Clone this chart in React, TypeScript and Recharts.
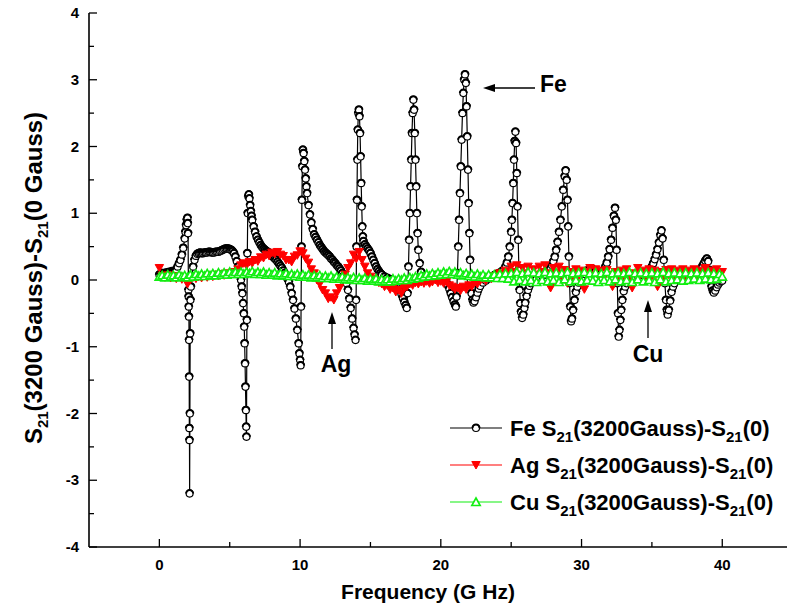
import React from 'react';
import { LineChart, Line, XAxis, YAxis } from 'recharts';

// Fe: [frequency GHz, S21(3200G)-S21(0)]
const fePoints: [number, number][] = [
  [0.0, 0.08], [0.1, 0.09], [0.2, 0.1], [0.3, 0.1], [0.4, 0.1], [0.5, 0.11], [0.6, 0.11], [0.7, 0.12], [0.8, 0.12], [0.9, 0.13],
  [1.0, 0.13], [1.1, 0.14], [1.2, 0.15], [1.3, 0.2], [1.4, 0.25], [1.5, 0.3], [1.6, 0.38], [1.7, 0.48], [1.8, 0.62], [1.85, 0.72],
  [1.9, 0.82], [1.95, 0.9], [2.0, 0.93], [2.02, 0.85], [2.04, 0.7], [2.06, 0.0], [2.07, -0.15], [2.08, -0.25], [2.09, -0.4], [2.1, -0.55],
  [2.11, -0.9], [2.12, -1.45], [2.13, -2.22], [2.14, -2.4], [2.15, -3.2], [2.17, -2.0], [2.19, -0.8], [2.21, -0.3], [2.24, -0.1], [2.3, 0.05],
  [2.4, 0.2], [2.5, 0.3], [2.6, 0.36], [2.7, 0.39], [2.8, 0.4], [2.9, 0.41], [3.0, 0.4], [3.1, 0.4], [3.2, 0.41], [3.3, 0.41],
  [3.4, 0.41], [3.5, 0.42], [3.6, 0.42], [3.7, 0.41], [3.8, 0.41], [3.9, 0.41], [4.0, 0.42], [4.1, 0.42], [4.2, 0.42], [4.3, 0.43],
  [4.4, 0.44], [4.5, 0.45], [4.6, 0.46], [4.7, 0.47], [4.8, 0.47], [4.9, 0.47], [5.0, 0.46], [5.1, 0.45], [5.2, 0.43], [5.3, 0.4],
  [5.4, 0.35], [5.5, 0.28], [5.6, 0.2], [5.7, 0.1], [5.8, 0.0], [5.85, -0.1], [5.9, -0.2], [5.95, -0.35], [6.0, -0.5], [6.03, -0.7],
  [6.06, -0.95], [6.09, -1.25], [6.12, -1.6], [6.15, -1.95], [6.17, -2.2], [6.19, -2.35], [6.22, -0.6], [6.25, 0.4], [6.28, 1.0], [6.32, 1.25],
  [6.36, 1.28], [6.4, 1.22], [6.45, 1.12], [6.5, 1.03], [6.55, 0.96], [6.6, 0.9], [6.7, 0.8], [6.8, 0.72], [6.9, 0.65], [7.0, 0.6],
  [7.1, 0.56], [7.2, 0.52], [7.3, 0.49], [7.4, 0.47], [7.5, 0.45], [7.6, 0.43], [7.7, 0.42], [7.8, 0.4], [7.9, 0.38], [8.0, 0.36],
  [8.1, 0.34], [8.2, 0.32], [8.3, 0.3], [8.4, 0.27], [8.5, 0.24], [8.6, 0.21], [8.7, 0.18], [8.8, 0.14], [8.9, 0.1], [9.0, 0.06],
  [9.1, 0.02], [9.2, -0.03], [9.3, -0.1], [9.4, -0.2], [9.5, -0.3], [9.6, -0.43], [9.7, -0.58], [9.8, -0.75], [9.9, -0.95], [9.95, -1.1],
  [10.0, -1.2], [10.04, -1.28], [10.07, -0.4], [10.1, 0.5], [10.13, 1.2], [10.16, 1.7], [10.2, 1.95], [10.25, 1.9], [10.3, 1.78], [10.35, 1.65],
  [10.4, 1.52], [10.45, 1.4], [10.5, 1.3], [10.6, 1.12], [10.7, 0.98], [10.8, 0.86], [10.9, 0.76], [11.0, 0.68], [11.1, 0.64], [11.2, 0.6],
  [11.3, 0.56], [11.4, 0.52], [11.5, 0.49], [11.6, 0.46], [11.7, 0.43], [11.8, 0.41], [11.9, 0.39], [12.0, 0.37], [12.1, 0.35], [12.2, 0.32],
  [12.3, 0.3], [12.4, 0.27], [12.5, 0.25], [12.6, 0.22], [12.7, 0.2], [12.8, 0.17], [12.9, 0.14], [13.0, 0.1], [13.1, 0.06], [13.2, 0.02],
  [13.3, -0.05], [13.4, -0.15], [13.5, -0.28], [13.6, -0.42], [13.7, -0.58], [13.8, -0.72], [13.87, -0.82], [13.94, -0.9], [13.98, -0.3], [14.01, 0.5],
  [14.04, 1.2], [14.07, 1.8], [14.1, 2.25], [14.14, 2.5], [14.18, 2.55], [14.22, 2.45], [14.26, 2.2], [14.3, 1.85], [14.34, 1.45], [14.38, 1.1],
  [14.42, 0.8], [14.46, 0.65], [14.5, 0.58], [14.6, 0.53], [14.7, 0.5], [14.8, 0.47], [14.9, 0.44], [15.0, 0.4], [15.1, 0.35], [15.2, 0.3],
  [15.3, 0.25], [15.4, 0.2], [15.5, 0.16], [15.6, 0.13], [15.7, 0.1], [15.8, 0.08], [16.0, 0.05], [16.2, 0.03], [16.4, 0.01], [16.6, -0.02],
  [16.8, -0.06], [17.0, -0.12], [17.1, -0.16], [17.2, -0.21], [17.3, -0.27], [17.4, -0.33], [17.5, -0.38], [17.58, -0.42], [17.64, -0.2], [17.7, 0.2],
  [17.75, 0.6], [17.8, 1.0], [17.85, 1.4], [17.9, 1.8], [17.95, 2.2], [18.0, 2.5], [18.05, 2.7], [18.1, 2.55], [18.15, 2.2], [18.2, 1.8],
  [18.25, 1.4], [18.3, 1.0], [18.35, 0.7], [18.4, 0.45], [18.5, 0.25], [18.6, 0.12], [18.7, 0.05], [18.8, 0.02], [19.0, 0.0], [19.2, 0.02],
  [19.4, 0.05], [19.6, 0.07], [19.8, 0.06], [20.0, 0.04], [20.2, 0.01], [20.4, -0.04], [20.5, -0.08], [20.6, -0.13], [20.7, -0.2], [20.8, -0.26],
  [20.9, -0.32], [21.0, -0.37], [21.07, -0.4], [21.12, -0.25], [21.18, 0.1], [21.24, 0.5], [21.3, 0.9], [21.36, 1.3], [21.42, 1.7], [21.48, 2.1],
  [21.54, 2.5], [21.6, 2.8], [21.66, 3.0], [21.72, 3.08], [21.78, 2.95], [21.83, 2.6], [21.88, 2.15], [21.93, 1.65], [21.98, 1.15], [22.03, 0.7],
  [22.08, 0.3], [22.13, 0.0], [22.18, -0.2], [22.25, -0.3], [22.32, -0.34], [22.4, -0.32], [22.5, -0.26], [22.6, -0.19], [22.7, -0.13], [22.8, -0.09],
  [23.0, -0.04], [23.2, -0.01], [23.4, 0.02], [23.6, 0.05], [23.8, 0.07], [24.0, 0.09], [24.2, 0.11], [24.4, 0.14], [24.6, 0.2], [24.7, 0.26],
  [24.8, 0.35], [24.9, 0.5], [25.0, 0.72], [25.05, 0.9], [25.1, 1.15], [25.15, 1.45], [25.2, 1.8], [25.25, 2.08], [25.3, 2.22], [25.35, 2.05],
  [25.4, 1.6], [25.45, 1.1], [25.5, 0.6], [25.55, 0.15], [25.6, -0.15], [25.65, -0.35], [25.7, -0.48], [25.78, -0.57], [25.86, -0.52], [25.94, -0.42],
  [26.0, -0.34], [26.1, -0.24], [26.2, -0.15], [26.3, -0.09], [26.4, -0.05], [26.6, 0.0], [26.8, 0.03], [27.0, 0.05], [27.2, 0.06], [27.4, 0.08],
  [27.6, 0.12], [27.8, 0.18], [27.9, 0.22], [28.0, 0.28], [28.1, 0.35], [28.2, 0.45], [28.3, 0.57], [28.4, 0.72], [28.5, 0.9], [28.6, 1.1],
  [28.7, 1.35], [28.8, 1.55], [28.87, 1.64], [28.94, 1.5], [29.0, 1.2], [29.05, 0.8], [29.1, 0.35], [29.15, -0.05], [29.2, -0.4], [29.26, -0.62],
  [29.32, -0.58], [29.4, -0.45], [29.5, -0.3], [29.6, -0.18], [29.7, -0.1], [29.8, -0.04], [30.0, 0.03], [30.2, 0.09], [30.4, 0.14], [30.6, 0.17],
  [30.8, 0.16], [31.0, 0.13], [31.2, 0.11], [31.4, 0.11], [31.6, 0.15], [31.7, 0.2], [31.8, 0.26], [31.9, 0.35], [32.0, 0.46], [32.1, 0.6],
  [32.2, 0.78], [32.3, 0.96], [32.38, 1.08], [32.44, 0.9], [32.49, 0.45], [32.54, -0.05], [32.59, -0.5], [32.64, -0.85], [32.7, -0.75], [32.76, -0.6],
  [32.82, -0.45], [32.9, -0.3], [33.0, -0.17], [33.1, -0.1], [33.2, -0.05], [33.4, 0.0], [33.6, 0.03], [33.8, 0.05], [34.0, 0.06], [34.2, 0.07],
  [34.4, 0.08], [34.6, 0.1], [34.8, 0.14], [35.0, 0.2], [35.1, 0.25], [35.2, 0.31], [35.3, 0.38], [35.4, 0.46], [35.5, 0.56], [35.6, 0.67],
  [35.68, 0.74], [35.76, 0.62], [35.84, 0.3], [35.92, -0.05], [36.0, -0.3], [36.06, -0.45], [36.12, -0.52], [36.2, -0.45], [36.3, -0.31], [36.4, -0.18],
  [36.5, -0.1], [36.6, -0.05], [36.8, 0.0], [37.0, 0.02], [37.2, 0.03], [37.4, 0.04], [37.6, 0.05], [37.8, 0.06], [38.0, 0.07], [38.2, 0.09],
  [38.4, 0.13], [38.5, 0.17], [38.6, 0.21], [38.7, 0.25], [38.8, 0.29], [38.9, 0.32], [39.0, 0.28], [39.08, 0.15], [39.16, 0.0], [39.24, -0.1],
  [39.32, -0.16], [39.4, -0.19], [39.5, -0.16], [39.6, -0.11], [39.7, -0.07], [39.8, -0.04], [39.9, -0.02], [40.0, -0.01],
];

// Ag and Cu sampled every 0.2 GHz from 0 to 40 GHz
const sampleStep = 0.2;
const agValues = [
  0.18, 0.06, 0.04, 0.07, 0.03, 0.06, 0.02, 0.05, 0.01, 0.03, -0.06, 0.0, 0.04, 0.02, 0.05, 0.03, 0.06, 0.04, 0.07, 0.05,
  0.08, 0.06, 0.09, 0.07, 0.1, 0.08, 0.11, 0.12, 0.16, 0.22, 0.25, 0.22, 0.27, 0.25, 0.3, 0.28, 0.34, 0.33, 0.38, 0.36,
  0.41, 0.39, 0.42, 0.38, 0.36, 0.3, 0.3, 0.27, 0.35, 0.37, 0.43, 0.4, 0.32, 0.26, 0.16, 0.1, 0.0, -0.06, -0.15, -0.2,
  -0.28, -0.26, -0.3, -0.2, -0.12, 0.02, 0.08, 0.18, 0.25, 0.38, 0.32, 0.42, 0.3, 0.2, 0.1, 0.05, 0.02, -0.02, -0.04, -0.06,
  -0.1, -0.08, -0.14, -0.12, -0.18, -0.15, -0.2, -0.12, -0.1, -0.06, -0.08, -0.04, -0.06, -0.03, -0.05, -0.02, -0.05, -0.03, 0.0, -0.04,
  -0.02, -0.05, -0.03, -0.08, -0.1, -0.14, -0.12, -0.16, -0.1, -0.14, -0.08, -0.1, -0.04, -0.06, -0.01, 0.02, -0.01, 0.04, 0.02, 0.06,
  0.04, 0.1, 0.06, 0.14, 0.1, 0.2, 0.12, 0.22, 0.08, 0.18, 0.1, 0.2, 0.06, 0.16, 0.08, 0.2, 0.12, 0.22, 0.1, -0.12,
  0.18, 0.1, 0.2, 0.05, 0.15, -0.05, 0.12, 0.04, 0.16, 0.06, 0.14, -0.14, 0.12, 0.18, 0.08, 0.16, 0.06, 0.14, 0.04, 0.15,
  0.08, -0.1, 0.12, 0.04, 0.14, 0.06, 0.16, 0.02, -0.12, 0.1, 0.18, 0.08, 0.14, 0.04, 0.16, 0.06, 0.14, -0.1, 0.12, 0.05,
  0.15, 0.08, 0.16, 0.06, 0.14, 0.08, 0.16, 0.05, 0.14, 0.08, 0.16, 0.06, 0.14, 0.1, 0.18, 0.06, 0.14, 0.08, 0.16, 0.1,
  0.12,
];
const cuValues = [
  0.05, 0.07, 0.04, 0.08, 0.05, 0.07, 0.04, 0.08, 0.05, 0.07, 0.04, 0.08, 0.05, 0.09, 0.06, 0.09, 0.06, 0.1, 0.07, 0.1,
  0.07, 0.11, 0.08, 0.11, 0.08, 0.12, 0.09, 0.12, 0.09, 0.12, 0.09, 0.12, 0.1, 0.13, 0.09, 0.12, 0.09, 0.12, 0.08, 0.11,
  0.08, 0.11, 0.07, 0.1, 0.07, 0.1, 0.06, 0.09, 0.06, 0.09, 0.05, 0.08, 0.05, 0.08, 0.04, 0.07, 0.04, 0.07, 0.03, 0.06,
  0.03, 0.06, 0.02, 0.05, 0.02, 0.05, 0.01, 0.04, 0.01, 0.04, 0.0, 0.03, 0.0, 0.03, -0.01, 0.02, -0.01, 0.02, -0.02, 0.01,
  -0.02, 0.01, -0.02, 0.02, -0.01, 0.02, 0.0, 0.03, 0.0, 0.04, 0.02, 0.05, 0.03, 0.07, 0.05, 0.09, 0.06, 0.1, 0.07, 0.11,
  0.08, 0.12, 0.09, 0.13, 0.09, 0.12, 0.08, 0.11, 0.07, 0.1, 0.06, 0.09, 0.05, 0.09, 0.05, 0.08, 0.04, 0.08, 0.04, 0.08,
  0.03, 0.09, 0.03, 0.1, 0.02, 0.1, -0.02, 0.12, 0.0, 0.1, -0.02, 0.12, 0.0, 0.11, -0.03, 0.1, 0.0, 0.12, -0.02, 0.1,
  0.0, 0.11, -0.03, 0.1, 0.01, 0.12, -0.02, 0.1, 0.0, 0.11, -0.02, 0.12, 0.0, 0.1, -0.01, 0.11, -0.03, 0.1, 0.0, 0.12,
  -0.02, 0.1, 0.01, 0.11, -0.02, 0.1, 0.0, 0.12, -0.03, 0.1, 0.01, 0.11, -0.02, 0.1, 0.0, 0.11, -0.03, 0.1, 0.01, 0.12,
  -0.02, 0.1, 0.0, 0.11, 0.01, 0.1, -0.01, 0.11, 0.0, 0.1, 0.02, 0.11, 0.0, 0.1, 0.02, 0.11, 0.01, 0.1, 0.02, 0.09,
  0.05,
];

const xTicks = [0, 5, 10, 15, 20, 25, 30, 35, 40];
const yTicks = [-4, -3.5, -3, -2.5, -2, -1.5, -1, -0.5, 0, 0.5, 1, 1.5, 2, 2.5, 3, 3.5, 4];

const feData = fePoints.map(([x, y]) => ({ x, y }));
const agData = agValues.map((y, i) => ({ x: +(i * sampleStep).toFixed(1), y }));
const cuData = cuValues.map((y, i) => ({ x: +(i * sampleStep).toFixed(1), y }));

const FONT = '"Liberation Sans", Arial, Helvetica, sans-serif';
const GREEN = '#11ee11';

const XTick = (props: any) => {
  const { x, y, payload } = props;
  const major = payload.value % 10 === 0;
  return (
    <g>
      <line x1={x} x2={x} y1={y} y2={y - (major ? 8 : 5)} stroke="#000" strokeWidth={1.3} />
      {major && (
        <text x={x} y={y + 23} textAnchor="middle" fontFamily={FONT} fontWeight="bold" fontSize={15} fill="#000">
          {payload.value}
        </text>
      )}
    </g>
  );
};

const YTick = (props: any) => {
  const { x, y, payload } = props;
  const major = Number.isInteger(payload.value);
  return (
    <g>
      <line x1={x} x2={x + (major ? 8 : 5)} y1={y} y2={y} stroke="#000" strokeWidth={1.3} />
      {major && (
        <text x={x - 10} y={y + 5} textAnchor="end" fontFamily={FONT} fontWeight="bold" fontSize={15} fill="#000">
          {payload.value}
        </text>
      )}
    </g>
  );
};

const FeDot = (props: any) => {
  const { cx, cy } = props;
  if (cx == null || cy == null) return null;
  return (
    <g>
      <circle cx={cx} cy={cy} r={3.5} fill="#fff" stroke="#000" strokeWidth={1.2} />
      <path d={`M${cx - 3.5},${cy} A3.5,3.5 0 0 1 ${cx + 3.5},${cy}`} fill="none" stroke="#000" strokeWidth={2} />
    </g>
  );
};

const AgDot = (props: any) => {
  const { cx, cy } = props;
  if (cx == null || cy == null) return null;
  return <path d={`M${cx - 4.2},${cy - 3.5} L${cx + 4.2},${cy - 3.5} L${cx},${cy + 4} Z`} fill="#ff0000" stroke="#ff0000" strokeWidth={1} />;
};

const CuDot = (props: any) => {
  const { cx, cy } = props;
  if (cx == null || cy == null) return null;
  return <path d={`M${cx - 4.2},${cy + 3.5} L${cx + 4.2},${cy + 3.5} L${cx},${cy - 4} Z`} fill="#fff" stroke={GREEN} strokeWidth={1.6} />;
};

// text pieces: [text, isSubscript]
type Piece = [string, boolean];
const renderPieces = (pieces: Piece[], subSize: number, shift: number) =>
  pieces.map(([t, sub], i) => {
    const prevSub = i > 0 && pieces[i - 1][1];
    const dy = sub ? shift : prevSub ? -shift : 0;
    return (
      <tspan key={i} dy={dy} fontSize={sub ? subSize : undefined}>
        {t}
      </tspan>
    );
  });

const yTitle: Piece[] = [['S', false], ['21', true], ['(3200 Gauss)-S', false], ['21', true], ['(0 Gauss)', false]];

const legendItems = [
  { name: 'Fe', color: '#000', kind: 'fe' },
  { name: 'Ag', color: '#ff0000', kind: 'ag' },
  { name: 'Cu', color: GREEN, kind: 'cu' },
];

const App: React.FC = () => {
  return (
    <div style={{ position: 'relative', width: 787, height: 607, background: '#fff' }}>
      <style>{'body{margin:0}'}</style>
      <LineChart width={787} height={607} margin={{ top: 13, right: 0, bottom: 0, left: 0 }}>
        <XAxis
          type="number"
          dataKey="x"
          domain={[-5, 44.6]}
          allowDataOverflow
          ticks={xTicks}
          interval={0}
          tickSize={0}
          tickMargin={0}
          tick={<XTick />}
          tickLine={false}
          axisLine={{ stroke: '#000', strokeWidth: 1.6 }}
          height={60}
        />
        <YAxis
          type="number"
          dataKey="y"
          domain={[-4, 4]}
          allowDataOverflow
          ticks={yTicks}
          interval={0}
          tickSize={0}
          tickMargin={0}
          tick={<YTick />}
          tickLine={false}
          axisLine={{ stroke: '#000', strokeWidth: 1.6 }}
          width={89}
        />
        <Line data={feData} dataKey="y" type="linear" stroke="#000" strokeWidth={1.2} dot={<FeDot />} isAnimationActive={false} />
        <Line data={agData} dataKey="y" type="linear" stroke="#ff0000" strokeWidth={1} dot={<AgDot />} isAnimationActive={false} />
        <Line data={cuData} dataKey="y" type="linear" stroke={GREEN} strokeWidth={1} dot={<CuDot />} isAnimationActive={false} />
      </LineChart>

      <svg width={787} height={607} style={{ position: 'absolute', left: 0, top: 0, pointerEvents: 'none' }}>
        <g fontFamily={FONT} fontWeight="bold" fill="#000">
          {/* axis titles */}
          <text x={428} y={599} textAnchor="middle" fontSize={21}>Frequency (G Hz)</text>
          <text transform="rotate(-90)" x={-278} y={42} textAnchor="middle" fontSize={24}>
            {renderPieces(yTitle, 15, 6)}
          </text>

          {/* annotations */}
          <line x1={535} y1={88} x2={492} y2={88} stroke="#000" strokeWidth={1.3} />
          <polygon points="483,88 495,84 495,92" fill="#000" />
          <text x={540} y={92} fontSize={23}>Fe</text>

          <line x1={332} y1={349} x2={332} y2={320} stroke="#000" strokeWidth={1.3} />
          <polygon points="332,312 328,324 336,324" fill="#000" />
          <text x={336} y={372} textAnchor="middle" fontSize={23}>Ag</text>

          <line x1={648} y1={338} x2={648} y2={308} stroke="#000" strokeWidth={1.3} />
          <polygon points="648,300 644,312 652,312" fill="#000" />
          <text x={648} y={362} textAnchor="middle" fontSize={23}>Cu</text>

          {/* legend */}
          {legendItems.map((item, i) => {
            const ly = 428 + i * 37;
            const pieces: Piece[] = [[`${item.name} S`, false], ['21', true], ['(3200Gauss)-S', false], ['21', true], ['(0)', false]];
            return (
              <g key={item.name}>
                <line x1={450} x2={502} y1={ly} y2={ly} stroke={item.color} strokeWidth={1.2} />
                {item.kind === 'fe' && <FeDot cx={476} cy={ly} />}
                {item.kind === 'ag' && <AgDot cx={476} cy={ly} />}
                {item.kind === 'cu' && <CuDot cx={476} cy={ly} />}
                <text x={510} y={ly + 8} fontSize={22}>
                  {renderPieces(pieces, 15, 6)}
                </text>
              </g>
            );
          })}
        </g>
      </svg>
    </div>
  );
};

export default App;
